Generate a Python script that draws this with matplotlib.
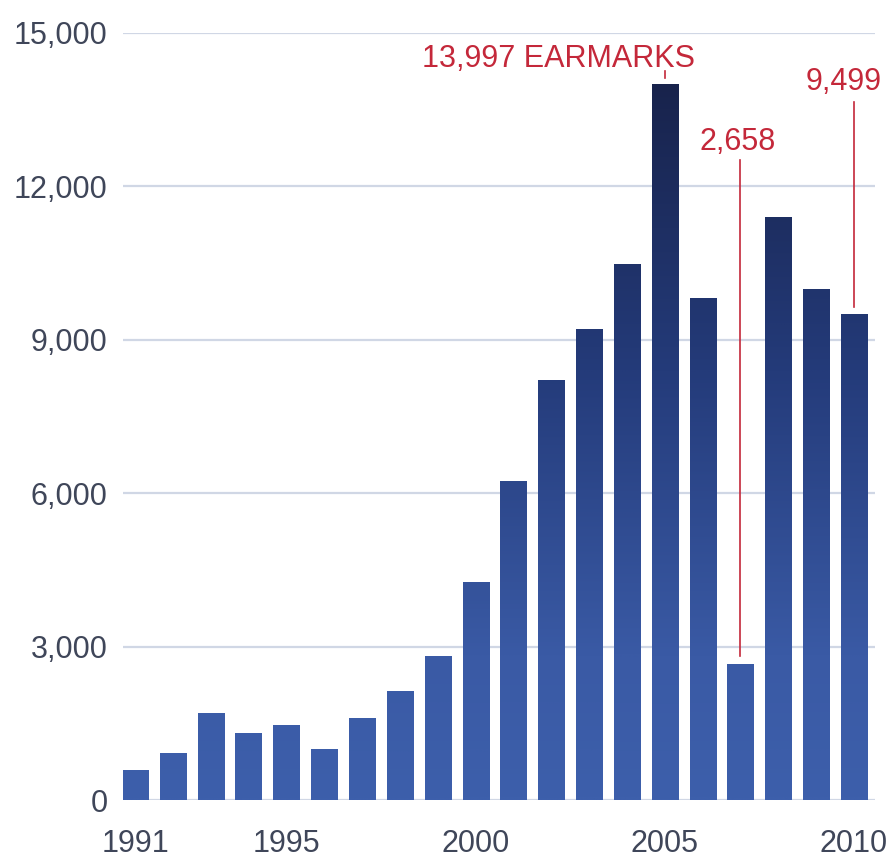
import numpy as np
import matplotlib
matplotlib.use('Agg')
import matplotlib.pyplot as plt
from matplotlib import font_manager
from matplotlib.colors import LinearSegmentedColormap
from matplotlib.ticker import FuncFormatter

# earmarks per year
years = [1991, 1992, 1993, 1994, 1995, 1996, 1997, 1998, 1999, 2000,
         2001, 2002, 2003, 2004, 2005, 2006, 2007, 2008, 2009, 2010]
earmarks = [570, 900, 1700, 1310, 1450, 980, 1600, 2130, 2800, 4250,
            6220, 8210, 9200, 10470, 13997, 9800, 2658, 11400, 9980, 9499]
xtick_years = [1991, 1995, 2000, 2005, 2010]
yticks = [0, 3000, 6000, 9000, 12000, 15000]

_names = {f.name for f in font_manager.fontManager.ttflist}
if 'Liberation Sans Narrow' in _names:
    FONT, FS = 'Liberation Sans Narrow', 26
else:
    FONT, FS = 'Liberation Sans', 22
plt.rcParams['font.family'] = [FONT, 'DejaVu Sans']

RED = '#c4283a'
TXT = '#3f4659'
GRID = '#d0d7e5'

# colour depends on absolute height: mid blue near the floor, navy near the top
cmap = LinearSegmentedColormap.from_list(
    'navy', [(0.0, '#3d5fab'), (0.2, '#3a5aa5'), (0.6, '#243b7a'), (1.0, '#18234c')])

W, H = 894, 858
fig = plt.figure(figsize=(W / 100, H / 100), dpi=100)
ax = fig.add_axes([123 / W, 1 - 800 / H, (875 - 123) / W, (800 - 33) / H])

pitch_px = 37.84
xlim = (1991 - 12 / pitch_px, 2010 + 21 / pitch_px)

bw = 0.69
for yr, v in zip(years, earmarks):
    grad = np.linspace(0, v, 256).reshape(-1, 1)
    ax.imshow(grad, cmap=cmap, vmin=0, vmax=14000, origin='lower',
              extent=(yr - bw / 2, yr + bw / 2, 0, v), aspect='auto',
              interpolation='bilinear', zorder=2)

ax.set_xlim(*xlim)
ax.set_ylim(0, 15000)

for s in ax.spines.values():
    s.set_visible(False)
ax.set_yticks(yticks)
ax.yaxis.set_major_formatter(FuncFormatter(lambda v, p: f'{int(v):,}'))
ax.set_xticks(xtick_years)
ax.tick_params(axis='both', length=0, labelsize=FS, labelcolor=TXT)
ax.tick_params(axis='y', pad=11)
ax.tick_params(axis='x', pad=21)
ax.grid(axis='y', color=GRID, linewidth=1.6, zorder=0)
ax.set_axisbelow(True)

# callouts
i05 = years.index(2005)
ax.text(2005.8, 14330, f'{earmarks[i05]:,} EARMARKS', color=RED, fontsize=FS,
        ha='right', va='baseline', zorder=4)
ax.plot([2005, 2005], [earmarks[i05] + 120, 14250], color=RED, lw=1.2, zorder=3)

i07 = years.index(2007)
ax.text(2006.92, 12713, f'{earmarks[i07]:,}', color=RED, fontsize=FS,
        ha='center', va='baseline', zorder=4)
ax.plot([2007, 2007], [earmarks[i07] + 150, 12517], color=RED, lw=1.2, zorder=3)

i10 = years.index(2010)
ax.text(2009.74, 13886, f'{earmarks[i10]:,}', color=RED, fontsize=FS,
        ha='center', va='baseline', zorder=4)
ax.plot([2010, 2010], [earmarks[i10] + 150, 13650], color=RED, lw=1.2, zorder=3)

fig.savefig('out.png', dpi=100, facecolor='white')
